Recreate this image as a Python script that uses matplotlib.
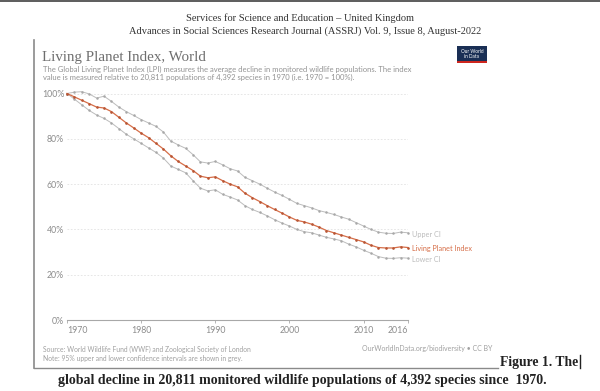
import matplotlib
matplotlib.use("Agg")
import matplotlib.pyplot as plt
from matplotlib.lines import Line2D
from matplotlib.patches import Rectangle

W, H = 600, 391

# Living Planet Index, World (1970 = 100%)
years = list(range(1970, 2017))
lpi = [100, 98.5, 97, 95.5, 94, 93.6, 92, 89.5, 87, 84.8,
       82.5, 80.5, 78, 75.5, 72.5, 70, 68, 66, 63.5, 62.8,
       63.2, 61.5, 60, 58.8, 56, 54, 52.3, 50.5, 48.8, 47.2,
       45.5, 44, 43.3, 42.3, 41, 39.5, 38.5, 37.5, 36.5, 35.5,
       34.5, 33, 32, 31.8, 31.8, 32.3, 32]
upper_ci = [100, 100.6, 100.8, 99.8, 98, 98.8, 96.5, 94, 92, 90.3,
            88.5, 87, 85.5, 83, 79, 77.3, 75.8, 73, 69.8, 69.3,
            70, 68.5, 66.8, 65.8, 63, 61.5, 60, 58.2, 56.5, 55,
            53.3, 51.5, 50.5, 49.5, 48.3, 47.5, 46.6, 45.5, 44.5, 43,
            41.5, 40, 38.8, 38.3, 38.2, 38.8, 38.5]
lower_ci = [100, 97.5, 95, 92.5, 90.5, 89, 87, 84.5, 82, 80,
            78, 76, 74, 71.5, 68, 66.5, 65, 61.5, 58.2, 57,
            57.5, 55.5, 54.3, 53, 50.5, 48.8, 47.5, 46, 44.3, 42.8,
            41.5, 40, 39, 38.5, 37.5, 36.5, 35.8, 35, 33.5, 32.3,
            30.8, 29.5, 28, 27.3, 27.2, 27.5, 27.3]

y_ticks = [0, 20, 40, 60, 80, 100]
x_ticks = [1970, 1980, 1990, 2000, 2010, 2016]

header = ["Services for Science and Education – United Kingdom",
          "Advances in Social Sciences Research Journal (ASSRJ) Vol. 9, Issue 8, August-2022"]
title = "Living Planet Index, World"
subtitle = ["The Global Living Planet Index (LPI) measures the average decline in monitored wildlife populations. The index",
            "value is measured relative to 20,811 populations of 4,392 species in 1970 (i.e. 1970 = 100%)."]
source = ["Source: World Wildlife Fund (WWF) and Zoological Society of London",
          "Note: 95% upper and lower confidence intervals are shown in grey."]
url = "OurWorldInData.org/biodiversity • CC BY"
caption_1 = "Figure 1. The"
caption_2 = "global decline in 20,811 monitored wildlife populations of 4,392 species since  1970."

GREY = "#bcbcbc"
RED = "#d66e48"
TXT = "#8c8c8c"


def px(x, y):
    return x / W, 1 - y / H


fig = plt.figure(figsize=(W / 100, H / 100), dpi=100)
fig.patch.set_facecolor("white")

# dark strip along the top edge of the page scan
fig.patches.append(Rectangle(px(0, 2), 1, 2 / H, transform=fig.transFigure,
                             color="#606060", lw=0))

# page header
fig.text(*px(300, 18), header[0], ha="center", va="center",
         family="Liberation Serif", fontsize=7.5, color="#333333")
fig.text(*px(305, 31), header[1], ha="center", va="center",
         family="Liberation Serif", fontsize=7.5, color="#333333")

# frame of the embedded chart (left and bottom edge)
fig.add_artist(Line2D([34 / W, 34 / W], [1 - 40 / H, 1 - 368 / H], color="#8a8a8a", lw=1.2))
fig.add_artist(Line2D([34 / W, 498 / W], [1 - 368 / H, 1 - 368 / H], color="#8a8a8a", lw=1.0))

# chart title and subtitle
fig.text(*px(42, 61), title, ha="left", va="baseline",
         family="Liberation Serif", fontsize=10.8, color="#6e6e6e")
fig.text(*px(43, 69.5), subtitle[0], ha="left", va="center",
         family="Lato", fontsize=5.5, color="#939393")
fig.text(*px(43, 77.5), subtitle[1], ha="left", va="center",
         family="Lato", fontsize=5.5, color="#939393")

# OWID logo
fig.patches.append(Rectangle(px(457, 63), 30 / W, 17 / H, transform=fig.transFigure,
                             color="#1a2f55", lw=0))
fig.patches.append(Rectangle(px(457, 63), 30 / W, 1.6 / H, transform=fig.transFigure,
                             color="#ce261e", lw=0))
fig.text(*px(472, 54), "Our World\nin Data", ha="center", va="center",
         family="Lato", fontsize=3.4, color="white", linespacing=0.95)

# plot area
ax = fig.add_axes([67 / W, 1 - 320 / H, 341 / W, 226.5 / H])
ax.set_xlim(1970, 2016)
ax.set_ylim(0, 100)

ax.plot(years, upper_ci, color=GREY, lw=0.7, marker="o", ms=0.8, mfc="#a8a8a8", mec="#a8a8a8",
        clip_on=False, zorder=3)
ax.plot(years, lower_ci, color=GREY, lw=0.7, marker="o", ms=0.8, mfc="#a8a8a8", mec="#a8a8a8",
        clip_on=False, zorder=3)
ax.plot(years, lpi, color=RED, lw=0.9, marker="o", ms=0.9, mfc="#b85534", mec="#b85534",
        clip_on=False, zorder=4)

for v in y_ticks[1:]:
    ax.axhline(v, color="#e2e2e2", lw=0.6, ls=(0, (2, 2)), zorder=1)

for s in ["top", "right", "left"]:
    ax.spines[s].set_visible(False)
ax.spines["bottom"].set_color("#a8a8a8")
ax.spines["bottom"].set_linewidth(0.8)

ax.set_yticks(y_ticks)
ax.set_yticklabels([f"{v}%" for v in y_ticks])
ax.set_xticks(x_ticks)
ax.set_xticklabels([str(v) for v in x_ticks])
ax.tick_params(axis="y", length=0, pad=2, labelsize=6.3, labelcolor=TXT)
ax.tick_params(axis="x", length=2.5, width=0.6, color="#a8a8a8", pad=1.5,
               labelsize=6.3, labelcolor=TXT)
for lab in ax.get_xticklabels() + ax.get_yticklabels():
    lab.set_family("Lato")
xl = ax.get_xticklabels()
xl[0].set_ha("left")
xl[-1].set_ha("right")

# end-of-line labels
end_labels = [("Upper CI", GREY, 234),
              ("Living Planet Index", RED, 248),
              ("Lower CI", GREY, 260)]
for name, col, ypx in end_labels:
    fig.text(*px(412, ypx), name, ha="left", va="center",
             family="Lato", fontsize=5.2, color=col)

# footer
fig.text(*px(43, 349), source[0], ha="left", va="center",
         family="Lato", fontsize=4.9, color="#a0a0a0")
fig.text(*px(43, 358), source[1], ha="left", va="center",
         family="Lato", fontsize=4.9, color="#a0a0a0")
fig.text(*px(492, 349), url, ha="right", va="center",
         family="Lato", fontsize=5.0, color="#a0a0a0")

# figure caption
fig.text(*px(500, 366), caption_1, ha="left", va="baseline",
         family="Liberation Serif", fontweight="bold", fontsize=9.8, color="#222222")
fig.add_artist(Line2D([580 / W, 580 / W], [1 - 355 / H, 1 - 368 / H], color="#222222", lw=1.0))
fig.text(*px(302, 384), caption_2, ha="center", va="baseline",
         family="Liberation Serif", fontweight="bold", fontsize=10.0, color="#222222")

fig.savefig("out.png", dpi=100, facecolor="white")
